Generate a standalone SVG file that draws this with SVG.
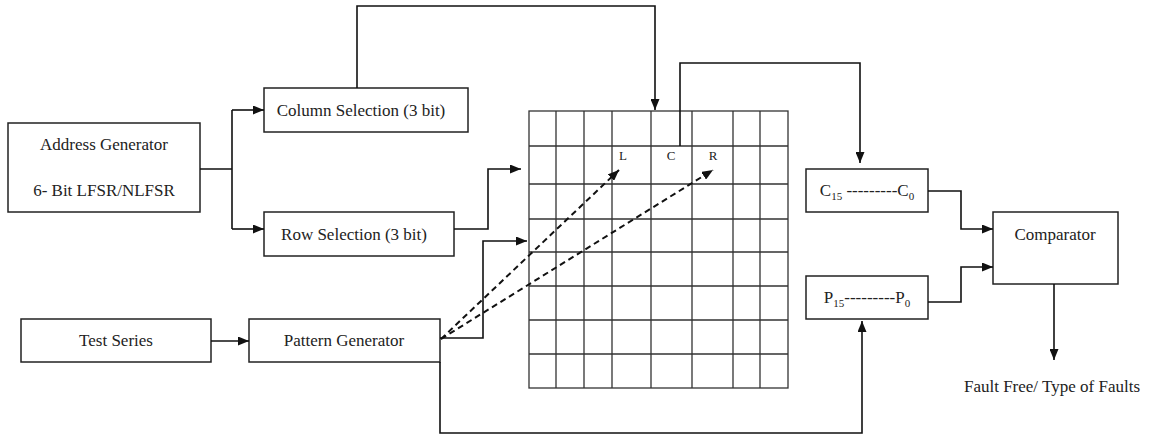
<svg xmlns="http://www.w3.org/2000/svg" width="1154" height="436" viewBox="0 0 1154 436">
<style>
.box{fill:#fff;stroke:#222;stroke-width:1.5}
.t{font-family:"Liberation Serif",serif;font-size:17px;fill:#222;text-anchor:middle}
.s{font-family:"Liberation Serif",serif;font-size:13px;fill:#222;text-anchor:middle}
.c{fill:none;stroke:#111;stroke-width:1.6}
.d{fill:none;stroke:#111;stroke-width:2;stroke-dasharray:6,4}
.g{fill:none;stroke:#333;stroke-width:1.3}
</style>
<defs>
<marker id="a" markerWidth="11" markerHeight="9" refX="11" refY="4.5" orient="auto" markerUnits="userSpaceOnUse">
<path d="M0,0 L11,4.5 L0,9 Z" fill="#111"/>
</marker>
</defs>
<rect width="1154" height="436" fill="#fff"/>
<g id="grid">
<rect class="g" x="529" y="111" width="259" height="277"/>
<path class="g" d="M556,111V388M584,111V388M612,111V388M651,111V388M692,111V388M733,111V388M760,111V388"/>
<path class="g" d="M529,146H788M529,184H788M529,219H788M529,252H788M529,286H788M529,320H788M529,354H788"/>
<text class="s" x="623" y="160">L</text>
<text class="s" x="671" y="160">C</text>
<text class="s" x="713" y="160">R</text>
</g>
<g id="address-generator">
<rect class="box" x="8" y="123" width="192" height="89"/>
<text class="t" x="104" y="150">Address Generator</text>
<text class="t" x="104" y="196">6- Bit LFSR/NLFSR</text>
</g>
<g id="column-selection">
<rect class="box" x="264" y="88" width="204" height="44"/>
<text class="t" x="361" y="116">Column Selection (3 bit)</text>
</g>
<g id="row-selection">
<rect class="box" x="264" y="212" width="190" height="44"/>
<text class="t" x="354" y="240">Row Selection (3 bit)</text>
</g>
<g id="test-series">
<rect class="box" x="21" y="319" width="190" height="43"/>
<text class="t" x="116" y="346">Test Series</text>
</g>
<g id="pattern-generator">
<rect class="box" x="249" y="319" width="191" height="43"/>
<text class="t" x="344" y="346">Pattern Generator</text>
</g>
<g id="c-register">
<rect class="box" x="806" y="169" width="122" height="43"/>
<text class="t" x="867" y="196">C<tspan font-size="11" dy="4">15</tspan><tspan dy="-4"> ---------C</tspan><tspan font-size="11" dy="4">0</tspan></text>
</g>
<g id="p-register">
<rect class="box" x="806" y="276" width="122" height="43"/>
<text class="t" x="867" y="303">P<tspan font-size="11" dy="4">15</tspan><tspan dy="-4">---------P</tspan><tspan font-size="11" dy="4">0</tspan></text>
</g>
<g id="comparator">
<rect class="box" x="993" y="212" width="125" height="72"/>
<text class="t" x="1055" y="240">Comparator</text>
</g>
<g id="output-label">
<text class="t" x="1052" y="392" font-size="18.5">Fault Free/ Type of Faults</text>
</g>
<g id="connectors">
<path class="c" d="M200,169H232M232,110V229"/>
<path class="c" d="M232,110H264" marker-end="url(#a)"/>
<path class="c" d="M232,229H264" marker-end="url(#a)"/>
<path class="c" d="M357,88V6H655V110" marker-end="url(#a)"/>
<path class="c" d="M454,229H488V169H521" marker-end="url(#a)"/>
<path class="c" d="M211,341L249,341" marker-end="url(#a)"/>
<path class="c" d="M440,338H483V241H527" marker-end="url(#a)"/>
<path class="d" d="M441,339L619,170" marker-end="url(#a)"/>
<path class="d" d="M441,339L713,170" marker-end="url(#a)"/>
<path class="c" d="M680,146V63H860V163" marker-end="url(#a)"/>
<path class="c" d="M440,362V433H862V321" marker-end="url(#a)"/>
<path class="c" d="M928,191H961V229H993" marker-end="url(#a)"/>
<path class="c" d="M928,302H961V267H993" marker-end="url(#a)"/>
<path class="c" d="M1054,284V360" marker-end="url(#a)"/>
</g>
</svg>
